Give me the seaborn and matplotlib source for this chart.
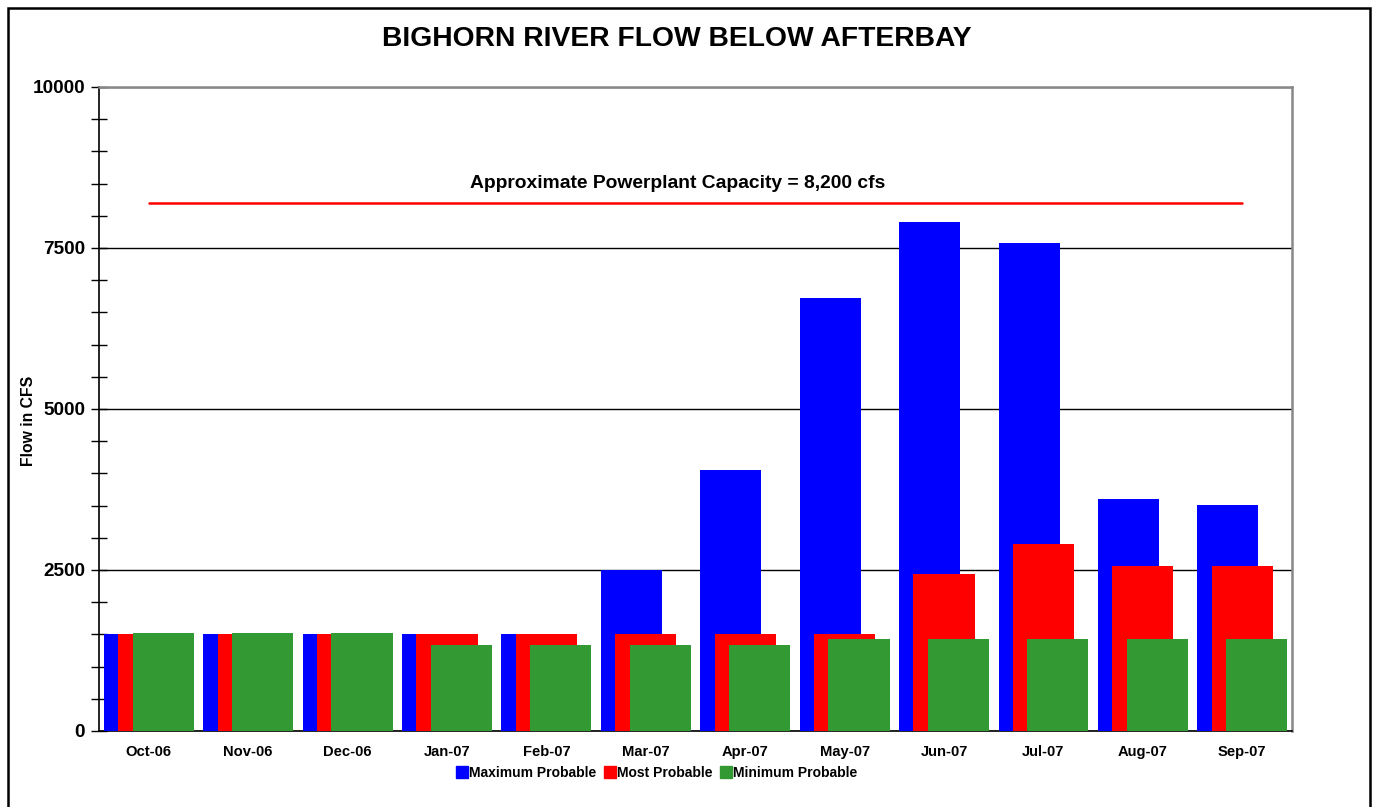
import numpy as np
import pandas as pd
import matplotlib
matplotlib.use("Agg")
import matplotlib.pyplot as plt
import seaborn as sns
from matplotlib.lines import Line2D
from matplotlib.patches import Rectangle
from matplotlib.ticker import MultipleLocator

# data
months = ["Oct-06", "Nov-06", "Dec-06", "Jan-07", "Feb-07", "Mar-07",
          "Apr-07", "May-07", "Jun-07", "Jul-07", "Aug-07", "Sep-07"]
max_probable = [1500, 1500, 1500, 1500, 1500, 2500, 4060, 6720, 7900, 7575, 3610, 3515]
most_probable = [1500, 1500, 1500, 1500, 1500, 1500, 1500, 1500, 2430, 2900, 2565, 2560]
min_probable = [1525, 1525, 1525, 1330, 1330, 1330, 1330, 1430, 1430, 1430, 1430, 1430]
capacity = 8200

series = [
    ("Maximum Probable", max_probable, "#0000FF", -0.145),
    ("Most Probable", most_probable, "#FF0000", 0.0),
    ("Minimum Probable", min_probable, "#339933", 0.145),
]

sns.set_style("white")
plt.rcParams["font.family"] = ["Liberation Sans", "DejaVu Sans"]
plt.rcParams["font.weight"] = "bold"
for key in ["text.color", "axes.labelcolor", "xtick.color", "ytick.color"]:
    plt.rcParams[key] = "black"

fig = plt.figure(figsize=(13.77, 8.07), dpi=100)
ax = fig.add_axes([0.0719, 0.0942, 0.8664, 0.798])

pos = np.arange(len(months))
for name, vals, color, off in series:
    df = pd.DataFrame({"x": pos + off, "y": vals})
    sns.barplot(data=df, x="x", y="y", native_scale=True, color=color,
                width=0.615, saturation=1, linewidth=0, ax=ax, zorder=3)

# powerplant capacity line
ax.plot([pos[0], pos[-1]], [capacity, capacity], color="#FF0000", lw=1.8, zorder=4)
ax.text(5.32, capacity + 170, "Approximate Powerplant Capacity = 8,200 cfs",
        ha="center", va="bottom", fontsize=13.9, fontweight="bold")

ax.set_xlim(-0.5, len(months) - 0.5)
ax.set_ylim(0, 10000)
ax.set_xticks(pos)
ax.set_xticklabels(months, fontsize=10.6, fontweight="bold")
ax.set_xticks(np.arange(-0.5, len(months)), minor=True)
ax.tick_params(axis="x", which="major", length=0, pad=10)
ax.tick_params(axis="x", which="minor", length=6, width=1, direction="out", color="black")

ax.yaxis.set_major_locator(MultipleLocator(2500))
ax.yaxis.set_minor_locator(MultipleLocator(500))
ax.set_yticklabels([f"{int(v)}" for v in ax.get_yticks()], fontsize=13.7, fontweight="bold")
ax.tick_params(axis="y", which="major", left=True, length=12, width=1, direction="inout", color="black", pad=4)
ax.tick_params(axis="y", which="minor", left=True, length=12, width=1, direction="inout", color="black")
ax.yaxis.grid(True, which="major", color="black", lw=1, zorder=0)
ax.set_axisbelow(True)

ax.set_xlabel("")
ax.set_ylabel("Flow in CFS", fontsize=11.3, fontweight="bold")
ax.yaxis.set_label_coords(-0.053, 0.482)

for side in ["left", "bottom"]:
    ax.spines[side].set_color("black")
    ax.spines[side].set_linewidth(1.2)
for side in ["top", "right"]:
    ax.spines[side].set_color("#888888")
    ax.spines[side].set_linewidth(1.8)
    ax.spines[side].set_visible(True)

fig.text(0.4915, 0.952, "BIGHORN RIVER FLOW BELOW AFTERBAY",
         ha="center", va="center", fontsize=20.3, fontweight="bold")

handles = [Line2D([0], [0], marker="s", linestyle="none", markersize=9,
                  markerfacecolor=c, markeredgecolor=c) for _, _, c, _ in series]
fig.legend(handles, [s[0] for s in series], loc="center", bbox_to_anchor=(0.476, 0.042),
           ncol=3, frameon=False, handletextpad=-0.1,
           columnspacing=0.4, handlelength=1.2, prop={"weight": "bold", "size": 10})

# outer chart border
fig.patches.append(Rectangle((8 / 1377, -0.05), 1362 / 1377, 1.05 - 8 / 807,
                             transform=fig.transFigure, fill=False,
                             edgecolor="black", lw=1.8))

fig.savefig("out.png", dpi=100)
